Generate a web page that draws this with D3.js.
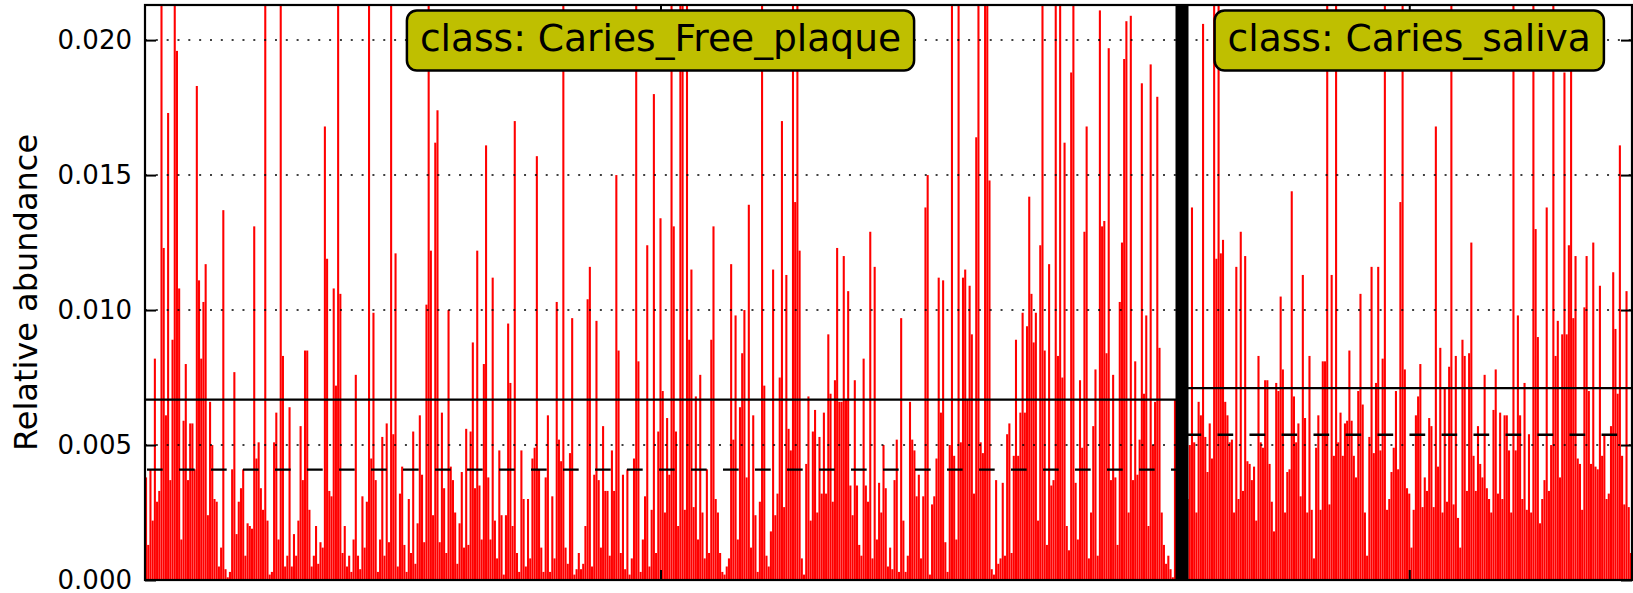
<!DOCTYPE html>
<html>
<head>
<meta charset="utf-8">
<script src="https://cdn.jsdelivr.net/npm/d3@7"></script>
<style>
body { margin: 0; background: #fff; }
svg { display: block; font-family: "DejaVu Sans", sans-serif; }
</style>
</head>
<body>
<div id="chart"></div>
<script>
// relative abundance per sample (bars taller than the axis top are set to .025)
var classNames = ['Caries_Free_plaque', 'Caries_saliva'];

var freePlaqueValues = [
	.0038,.0013,.0041,.0022,.0082,.0029,.0033,.025,.0123,.0061,
	.0173,.0037,.0089,.025,.0196,.0108,.0015,.0059,.0080,.0037,
	.0058,.0058,.0041,.0183,.0111,.0082,.0103,.0117,.0024,.0066,
	.0050,.0030,.0029,.0005,.0012,.0137,.0004,.0001,.0003,.0041,
	.0077,.0017,.0029,.0034,.0041,.0009,.0021,.0020,.0019,.0131,
	.0045,.0051,.0034,.0026,.025,.0022,.0002,.0003,.0051,.0062,
	.0015,.025,.0083,.0005,.0009,.0064,.0005,.0017,.0009,.0022,
	.0057,.0037,.0085,.0085,.0026,.0005,.0009,.0020,.0006,.0014,
	.0012,.0168,.0119,
	.0033,.0031,.0108,.0072,.025,.0106,.0010,.0020,.0005,.0009,
	.0003,.0015,.0076,.0009,.0004,.0031,.0012,.0029,.025,.0045,
	.0099,.0037,.0003,.0015,.0053,.0009,.0058,.0014,.025,.0054,
	.0121,.0005,.0032,.0042,.0013,.0003,.0030,.0010,.0055,.0006,
	.0021,.0061,.0039,.0014,.0102,.025,.0122,.0024,.0162,.0174,
	.0014,.0062,.0034,.0010,.0100,.0042,.0037,.0025,.0006,.0021,
	.0040,.0012,.0056,.0013,.0055,.0088,.0034,.0122,.0035,.0015,
	.0080,.0161,.0038,.0015,.0112,.0022,.0008,.0048,.0024,.0002,
	.0024,.0095,.0073,
	.0020,.0170,.0010,.0003,.0048,.0030,.0005,.0030,.0008,.0045,
	.0049,.0157,.0041,.0012,.0003,.0038,.0061,.0003,.0031,.0008,
	.0103,.0052,.0044,.025,.0012,.0006,.0047,.0097,.0002,.0004,
	.0010,.0004,.0006,.0020,.0104,.0116,.0005,.0039,.0096,.0037,.0012,
	.0057,.0033,.0033,.0009,.0048,.0033,.0150,.0085,.0010,.0039,
	.0004,.0041,.0002,.0008,.0045,.025,.0081,.0003,.0015,.0031,
	.0124,.0005,.0026,.0180,.0010,.0055,.0134,.0070,.0025,.0060,
	.0039,.025,.0131,.0055,.0020,.025,.025,.0026,.025,.0089,
	.0115,.0027,
	.0068,.0015,.0076,.0025,.0008,.0041,.0010,.0089,.0131,.0030,
	.0025,.0010,.0003,.0002,.0005,.0008,.0117,.0052,.0098,.0015,.0064,
	.0084,.0100,.0038,.0139,.0012,.0061,.0024,.0003,.0029,.025,
	.0072,.0009,.0005,.0018,.0115,.0024,.0032,.0075,.0170,.0027,
	.0113,.0056,.0048,.025,.0140,.025,.0122,.0008,.0002,.0043,
	.0068,.0022,.0055,.0063,.0025,.0053,.0032,.0062,.0032,.0091,
	.0069,.0029,.0074,.0123,.0066,.0066,.0120,.0067,.0107,.0035,
	.0024,.0074,.0035,.0013,.0009,.0082,.0035,.0029,.0129,.0008,.0116,
	.0015,.0036,.0025,.0050,
	.0034,.0005,.0012,.0004,.0037,.0052,.0003,.0097,.0022,.0003,
	.0009,.0066,.0052,.0048,.0031,.0039,.0008,.0031,.0138,.0150,
	.0002,.0028,.0031,.0045,.0112,.0062,.0111,.0014,.0003,.0050,
	.025,.0046,.0015,.025,.0051,.0112,.0115,.0067,.0109,.0091,
	.0032,.0164,.025,.0051,.0047,.025,.025,.0148,.0004,.0002,
	.0037,.0006,.0008,.0036,.0009,.0054,.0058,.0010,.0046,.0089,.0046,
	.0062,.0099,.0062,.0094,.0142,.0106,.0088,.0099,.0022,.0124,
	.025,.0085,.0013,.0117,.0035,.0037,.025,.0083,.025,.0075,
	.0162,.0020,.0011,
	.0188,.025,.0036,.0015,.0074,.0049,.0129,.0168,.0008,.0025,
	.0057,.0078,.0009,.0211,.0131,.0133,.0084,.0197,.0037,.0076,
	.0038,.0013,.0103,.0125,.0193,.0207,.0025,.0209,.0037,.0081,
	.0039,.0052,.0184,.0069,.0098,.0020,.0191,.0050,.0066,.0179,
	.0086,.0025,.0013,.0006,.0009,.0004,.0001,.0067
];

var salivaValues = [
	.0030,.0050,
	.0138,.0051,.0025,.0066,.0061,.0206,.0053,.0040,.0058,.0045,
	.025,.0119,.025,.0121,.0126,.0066,.0061,.0051,.0052,.0025,
	.0116,.0030,.0129,.0033,.0120,.0044,.0043,.0037,.0042,.0022,
	.0083,.0051,.0049,.0074,.0074,.0043,.0029,.0018,.0073,.0070,
	.0105,.0078,.0025,.0040,.0041,.0144,.0068,.0051,.0058,.0031,
	.0113,.0060,.0025,.0083,.0026,.0008,.0049,.0061,.0026,.0081,
	.0081,.025,.0028,.0113,.0046,.025,.0051,.0062,.0046,.0058,
	.0059,.0085,.0059,.0046,.0038,.0070,.0106,.0065,.0025,.0009,
	.0053,.0116,.0047,.0073,.0116,.0048,.0082,.025,.0026,.0030,
	.0040,.0049,.0070,.0041,.0140,.025,.0078,.0034,.0032,.0012,
	.0026,.0061,.0068,.0080,.0027,.0038,.0033,.0060,.0057,.0027,
	.0168,.0042,.0086,.0025,.0071,.0029,.0079,.025,.0028,.0083,
	.0023,.0012,.0089,.0083,.0033,.0084,.0125,.0046,.0033,.0057,
	.0043,.0038,.0076,.0034,.0030,.0025,.0063,.0078,.0032,.0062,
	.0030,.0061,.0061,.0048,.0025,.025,.0048,.0098,.0061,.0030,
	.0073,.0026,.0054,.0025,.025,.0130,.0090,.0021,.0030,.0037,
	.0138,.0033,.0050,.025,.0083,.0096,.0038,.0091,.0188,.0091,
	.0124,.0189,.0097,.0120,.0045,.0043,.0026,.0101,.0120,.0070,
	.0043,.0125,.0042,.0041,.0109,.0046,.0054,.0030,.0032,.0057,
	.0114,.0093,.0069,.0161,.0046,.0028,.0107,.0027,.0010
];

// solid line = mean, dashed line = median (per class)
var classMeans = [0.00668, 0.00711];
var classMedians = [0.00409, 0.00538];

var yTicks = [0, 0.005, 0.010, 0.015, 0.020];
var yMax = 0.0213;

//configuration
var width = 1633,
	height = 593,
	plot = { left: 145, right: 1632, top: 5, bottom: 580 },
	gap = { left: 1175.5, right: 1188.5 };

var svg = d3.select('#chart')
	.append('svg')
		.attr('width', width)
		.attr('height', height);

var y = d3.scaleLinear()
	.domain([0, yMax])
	.range([plot.bottom, plot.top]);

var panels = [
	{ name: classNames[0], values: freePlaqueValues, mean: classMeans[0], median: classMedians[0], x0: plot.left, x1: gap.left + 0.5 },
	{ name: classNames[1], values: salivaValues, mean: classMeans[1], median: classMedians[1], x0: gap.right - 2, x1: plot.right }
];

panels.forEach(function(p){
	p.x = d3.scaleBand()
		.domain(d3.range(p.values.length))
		.range([p.x0, p.x1])
		.paddingInner(0.06);
	p.center = (p.x0 + p.x1) / 2;
});

svg.append('clipPath')
	.attr('id', 'plot-clip')
	.append('rect')
		.attr('x', plot.left)
		.attr('y', plot.top)
		.attr('width', plot.right - plot.left)
		.attr('height', plot.bottom - plot.top);

var bars = svg.append('g').attr('clip-path', 'url(#plot-clip)');

panels.forEach(function(p){
	bars.append('g')
		.selectAll('rect')
		.data(p.values)
		.enter()
		.append('rect')
			.attr('x', function(d, i){ return p.x(i); })
			.attr('y', function(d){ return y(d); })
			.attr('width', p.x.bandwidth())
			.attr('height', function(d){ return y(0) - y(d); })
			.attr('fill', '#ff0000');
});

// dotted grid, drawn over the bars
svg.append('g')
	.selectAll('line')
	.data(yTicks.filter(function(d){ return d > 0; }))
	.enter()
	.append('line')
		.attr('x1', plot.left)
		.attr('x2', plot.right)
		.attr('y1', function(d){ return y(d); })
		.attr('y2', function(d){ return y(d); })
		.attr('stroke', '#000')
		.attr('stroke-width', 1.5)
		.attr('stroke-dasharray', '2,8.83');

// mean and median lines
panels.forEach(function(p, k){
	var start = k === 0 ? plot.left : gap.right - 5;
	svg.append('line')
		.attr('x1', start).attr('x2', p.x1)
		.attr('y1', y(p.mean)).attr('y2', y(p.mean))
		.attr('stroke', '#000')
		.attr('stroke-width', 2.2);
	svg.append('line')
		.attr('x1', start + 2).attr('x2', p.x1)
		.attr('y1', y(p.median)).attr('y2', y(p.median))
		.attr('stroke', '#000')
		.attr('stroke-width', 2.4)
		.attr('stroke-dasharray', '15.7,16.3');
});

// separator between classes
svg.append('rect')
	.attr('x', gap.left)
	.attr('y', plot.top)
	.attr('width', gap.right - gap.left)
	.attr('height', plot.bottom - plot.top)
	.attr('fill', '#000');

// axes
var yAxis = svg.append('g')
	.attr('transform', 'translate(' + plot.left + ',0)')
	.call(d3.axisLeft(y)
		.tickValues(yTicks)
		.tickFormat(d3.format('.3f'))
		.tickSize(-11)
		.tickPadding(13));
yAxis.select('.domain').remove();
yAxis.selectAll('line').attr('stroke-width', 2);
yAxis.selectAll('text')
	.attr('font-size', 26)
	.attr('font-family', '"DejaVu Sans", sans-serif')
	.attr('fill', '#000');

var yAxisRight = svg.append('g')
	.attr('transform', 'translate(' + plot.right + ',0)')
	.call(d3.axisRight(y).tickValues(yTicks).tickFormat('').tickSize(-11));
yAxisRight.select('.domain').remove();
yAxisRight.selectAll('line').attr('stroke-width', 2);

var xTicks = panels.map(function(p){ return p.center; });
[['axisBottom', plot.bottom], ['axisTop', plot.top]].forEach(function(a){
	var g = svg.append('g')
		.attr('transform', 'translate(0,' + a[1] + ')')
		.call(d3[a[0]](d3.scaleIdentity()).tickValues(xTicks).tickFormat('').tickSize(-10));
	g.select('.domain').remove();
	g.selectAll('line').attr('stroke-width', 2);
});

svg.append('rect')
	.attr('x', plot.left)
	.attr('y', plot.top)
	.attr('width', plot.right - plot.left)
	.attr('height', plot.bottom - plot.top)
	.attr('fill', 'none')
	.attr('stroke', '#000')
	.attr('stroke-width', 2.2);

svg.append('text')
	.attr('transform', 'translate(37,' + ((plot.top + plot.bottom) / 2) + ') rotate(-90)')
	.attr('text-anchor', 'middle')
	.attr('font-size', 32)
	.text('Relative abundance');

// class labels
panels.forEach(function(p){
	var g = svg.append('g');
	var box = g.append('rect');
	var label = g.append('text')
		.attr('x', p.center)
		.attr('y', 51)
		.attr('text-anchor', 'middle')
		.attr('font-size', 37.6)
		.text('class: ' + p.name);
	var w = label.node().getComputedTextLength() + 26;
	box.attr('x', p.center - w / 2)
		.attr('y', 10.5)
		.attr('width', w)
		.attr('height', 60)
		.attr('rx', 10)
		.attr('fill', '#bfbf00')
		.attr('stroke', '#000')
		.attr('stroke-width', 2.5);
});
</script>
</body>
</html>
